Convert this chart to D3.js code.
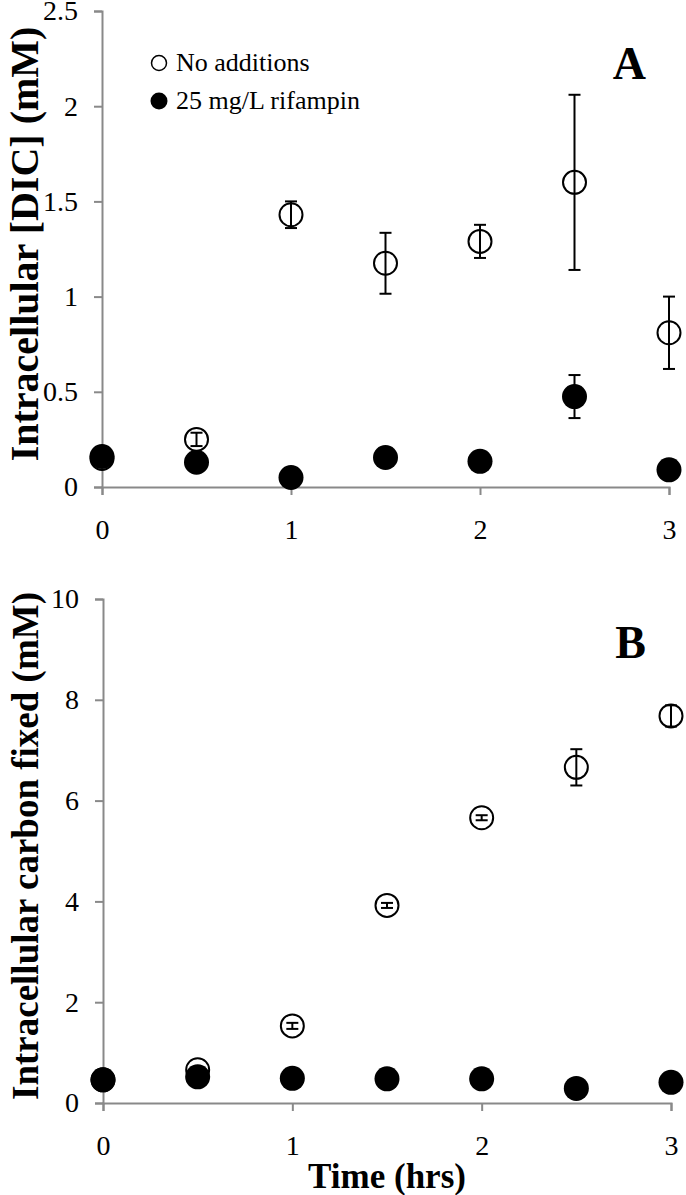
<!DOCTYPE html>
<html>
<head>
<meta charset="utf-8">
<script src="https://cdn.jsdelivr.net/npm/d3@7"></script>
<style>
    body { margin: 0; background: #fff; }
    text { font-family: "Times New Roman", "Liberation Serif", serif; fill: #000; }
</style>
</head>
<body>
<div id="chart-area"></div>
<script>
// Data
var times = [0, 0.5, 1, 1.5, 2, 2.5, 3];

// Panel A - intracellular DIC (mM)
var dicNoAdd    = [0.15, 0.25, 1.43, 1.175, 1.29, 1.60, 0.81];
var dicNoAddErr = [0.02, 0.035, 0.07, 0.16, 0.087, 0.46, 0.19];
var dicRif      = [0.16, 0.13, 0.05, 0.155, 0.135, 0.475, 0.09];
var dicRifErr   = [0, 0, 0, 0, 0, 0.113, 0];

// Panel B - intracellular carbon fixed (mM)
var fixNoAdd    = [0.46, 0.66, 1.53, 3.92, 5.66, 6.66, 7.68];
var fixNoAddErr = [0.02, 0.03, 0.06, 0.05, 0.05, 0.36, 0.21];
var fixRif      = [0.46, 0.52, 0.49, 0.48, 0.48, 0.29, 0.41];
var fixRifErr   = [0, 0, 0, 0, 0, 0, 0];

var xTicks = [0, 1, 2, 3];
var yTicksA = [0, 0.5, 1, 1.5, 2, 2.5];
var yTicksB = [0, 2, 4, 6, 8, 10];

var seriesNames = ["No additions", "25 mg/L rifampin"];

var width = 686, height = 1195;
var axisColor = "#898989";

var svg = d3.select("#chart-area")
    .append("svg")
        .attr("width", width)
        .attr("height", height);

// Build one panel
function panel(opts) {
    var x = d3.scaleLinear().domain([0, 3]).range([opts.left, opts.right]);
    var y = d3.scaleLinear().domain(opts.yDomain).range([opts.bottom, opts.top]);

    var g = svg.append("g");

    // Y Axis
    var yAxisCall = d3.axisLeft(y)
        .tickValues(opts.yTicks)
        .tickSize(8)
        .tickPadding(16)
        .tickFormat(function(d){ return d; });
    var yAxisGroup = g.append("g")
        .attr("transform", "translate(" + opts.left + ",0)")
        .call(yAxisCall);

    // X Axis
    var xAxisCall = d3.axisBottom(x)
        .tickValues(xTicks)
        .tickSize(8)
        .tickPadding(24)
        .tickFormat(function(d){ return d; });
    var xAxisGroup = g.append("g")
        .attr("transform", "translate(0," + opts.bottom + ")")
        .call(xAxisCall);

    [yAxisGroup, xAxisGroup].forEach(function(ax){
        ax.select(".domain").attr("stroke", axisColor).attr("stroke-width", 2);
        ax.selectAll(".tick line").attr("stroke", axisColor).attr("stroke-width", 2);
        ax.selectAll(".tick text")
            .attr("font-size", "28px")
            .attr("font-family", "'Times New Roman', 'Liberation Serif', serif")
            .attr("fill", "#000");
    });

    // Y Label
    g.append("text")
        .attr("transform", "rotate(-90)")
        .attr("x", -opts.labelMid)
        .attr("y", 38)
        .attr("text-anchor", "middle")
        .attr("font-size", opts.labelSize)
        .attr("font-weight", "bold")
        .text(opts.yLabel);

    // Panel letter
    g.append("text")
        .attr("x", 646)
        .attr("y", opts.letterY)
        .attr("text-anchor", "end")
        .attr("font-size", "46px")
        .attr("font-weight", "bold")
        .text(opts.letter);

    var open = times.map(function(t, i){ return { t: t, v: opts.open[i], e: opts.openErr[i] }; });
    var filled = times.map(function(t, i){ return { t: t, v: opts.filled[i], e: opts.filledErr[i] }; });

    // Open circles
    g.selectAll(".open")
        .data(open)
        .enter()
        .append("circle")
            .attr("class", "open")
            .attr("cx", function(d){ return x(d.t); })
            .attr("cy", function(d){ return y(d.v); })
            .attr("r", 11.5)
            .attr("fill", "#fff")
            .attr("stroke", "#000")
            .attr("stroke-width", 2);

    errorBars(g, open, x, y);

    // Filled circles
    g.selectAll(".filled")
        .data(filled)
        .enter()
        .append("circle")
            .attr("class", "filled")
            .attr("cx", function(d){ return x(d.t); })
            .attr("cy", function(d){ return y(d.v); })
            .attr("r", 12.5)
            .attr("fill", "#000");

    errorBars(g, filled, x, y);
}

function errorBars(g, data, x, y) {
    var bars = g.append("g")
        .selectAll("g")
        .data(data.filter(function(d){ return d.e > 0; }))
        .enter()
        .append("g")
            .attr("stroke", "#000")
            .attr("stroke-width", 2);

    bars.append("line")
        .attr("x1", function(d){ return x(d.t); })
        .attr("x2", function(d){ return x(d.t); })
        .attr("y1", function(d){ return y(d.v + d.e); })
        .attr("y2", function(d){ return y(d.v - d.e); });

    [1, -1].forEach(function(s){
        bars.append("line")
            .attr("x1", function(d){ return x(d.t) - 6; })
            .attr("x2", function(d){ return x(d.t) + 6; })
            .attr("y1", function(d){ return y(d.v + s * d.e); })
            .attr("y2", function(d){ return y(d.v + s * d.e); });
    });
}

panel({
    top: 11, bottom: 487, left: 102, right: 669,
    yDomain: [0, 2.5], yTicks: yTicksA,
    yLabel: "Intracellular [DIC] (mM)", labelSize: "40px", labelMid: 244,
    letter: "A", letterY: 79,
    open: dicNoAdd, openErr: dicNoAddErr,
    filled: dicRif, filledErr: dicRifErr
});

panel({
    top: 599, bottom: 1103, left: 103, right: 671,
    yDomain: [0, 10], yTicks: yTicksB,
    yLabel: "Intracellular carbon fixed (mM)", labelSize: "37px", labelMid: 846,
    letter: "B", letterY: 658,
    open: fixNoAdd, openErr: fixNoAddErr,
    filled: fixRif, filledErr: fixRifErr
});

// X Label (bottom panel only)
svg.append("text")
    .attr("x", 387)
    .attr("y", 1188)
    .attr("text-anchor", "middle")
    .attr("font-size", "35px")
    .attr("font-weight", "bold")
    .text("Time (hrs)");

// Legend
var legend = svg.append("g");
seriesNames.forEach(function(name, i){
    var cy = i === 0 ? 63 : 101;
    legend.append("circle")
        .attr("cx", 159)
        .attr("cy", cy)
        .attr("r", i === 0 ? 7.5 : 8.5)
        .attr("fill", i === 0 ? "#fff" : "#000")
        .attr("stroke", "#000")
        .attr("stroke-width", i === 0 ? 1.5 : 0);
    legend.append("text")
        .attr("x", 176)
        .attr("y", cy + 8)
        .attr("font-size", "26px")
        .text(name);
});
</script>
</body>
</html>
